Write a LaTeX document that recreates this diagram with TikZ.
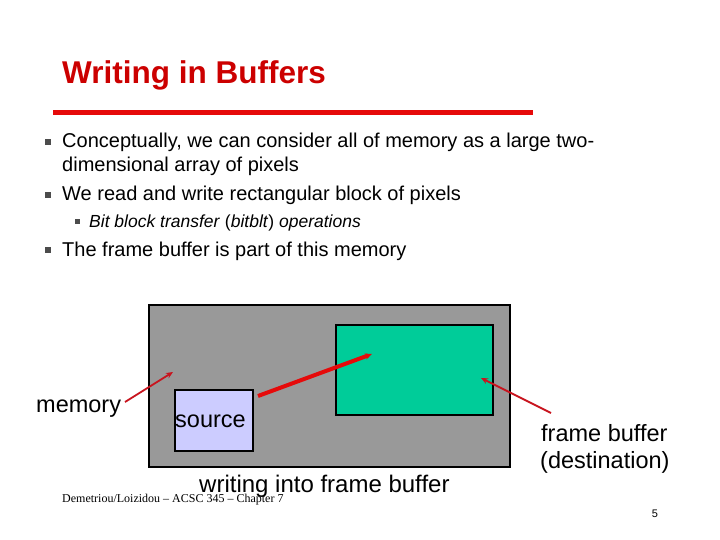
\documentclass[tikz,border=0pt]{standalone}
\usepackage{fontspec}
\setmainfont{Liberation Sans}
\newfontfamily\footfont{Liberation Serif}
\usetikzlibrary{arrows.meta}
\usetikzlibrary{positioning}
\definecolor{titlered}{RGB}{204,0,0}
\definecolor{barred}{RGB}{230,10,10}
\definecolor{ptrred}{RGB}{200,20,30}
\definecolor{memgray}{RGB}{153,153,153}
\definecolor{fbgreen}{RGB}{0,204,153}
\definecolor{srcblue}{RGB}{204,204,255}
\tikzset{
bul/.style = {rectangle, fill=black!70, minimum size=#1,
              inner sep=0pt, outer sep=0pt},
bul/.default = 6pt, % side of the bullet square
line/.style = {anchor=base west, inner sep=0pt, font=\fontsize{20}{22}\selectfont},
lbl/.style = {anchor=base west, inner sep=0pt, font=\fontsize{23.5}{27}\selectfont},
ptr/.style = {-{Stealth[length=7pt,width=6pt]}, draw=ptrred, line width=1.8pt},
blk/.style = {draw=black, line width=1.5pt}
}
\newcommand{\bulline}[3]{\node[bul] (b#1) at (48,#2-6) {};
  \node[line] (t#1) at (62,#2) {#3};}
\newcommand{\subline}[3]{\node[bul=5pt] (b#1) at (77,#2-5) {};
  \node[line, font=\fontsize{17.5}{19}\selectfont\itshape] (t#1) at (89,#2) {#3};}

\begin{document}
\begin{tikzpicture}[x=1pt,y=-1pt]
    \useasboundingbox (0,0) rectangle (720,540);
    % title
    \node[anchor=base west, inner sep=0pt, text=titlered,
          font=\fontsize{31.5}{34}\selectfont\bfseries] (title) at (62,84) {Writing in Buffers};
    \draw[barred, line width=5pt] (53,113) -- (533,113);

    % bullets
    \bulline{1}{148}{Conceptually, we can consider all of memory as a large two-}
    \node[line] (t1b) at (62,172) {dimensional array of pixels};
    \bulline{2}{201}{We read and write rectangular block of pixels}
    \subline{3}{227}{Bit block transfer \textup{(}bitblt\textup{)} operations}
    \bulline{4}{256}{The frame buffer is part of this memory}

    % memory picture
    \filldraw[blk, fill=memgray] (149,305) rectangle (510,467);
    \node[blk, fill=fbgreen, rectangle, inner sep=0pt, minimum width=157pt,
          minimum height=90pt, anchor=north west] (fb) at (335,324) {};
    \node[blk, fill=srcblue, rectangle, inner sep=0pt, minimum width=78pt,
          minimum height=61pt, anchor=north west] (src) at (174,389) {};
    \node[lbl] (srclbl) at (175,427) {source};

    \coordinate (memtip) at (173,372);
    \coordinate (fbtip) at (481,378);
    \coordinate (srcout) at (258,396);
    \coordinate (fbin) at (372,354);

    \node[lbl] (memlbl) at (36,412) {memory};
    \node[lbl] (fblbl) at (541,441) {frame buffer};
    \node[lbl] (dstlbl) at (540,468) {(destination)};
    \node[lbl, font=\fontsize{24}{27}\selectfont] (wrlbl) at (199,492) {writing into frame buffer};

    \draw[ptr] (125,402) -- (memtip);
    \draw[ptr] (551,413) -- (fbtip);
    \draw[ptr, draw=barred, line width=4pt] (srcout) -- (fbin);

    % footer
    \node[anchor=base west, inner sep=0pt, font=\footfont\fontsize{12}{14}\selectfont]
        (foot) at (62,502) {Demetriou/Loizidou – ACSC 345 – Chapter 7};
    \node[anchor=base, inner sep=0pt, font=\fontsize{11}{12}\selectfont] (pg) at (655,517) {5};
\end{tikzpicture}
\end{document}
